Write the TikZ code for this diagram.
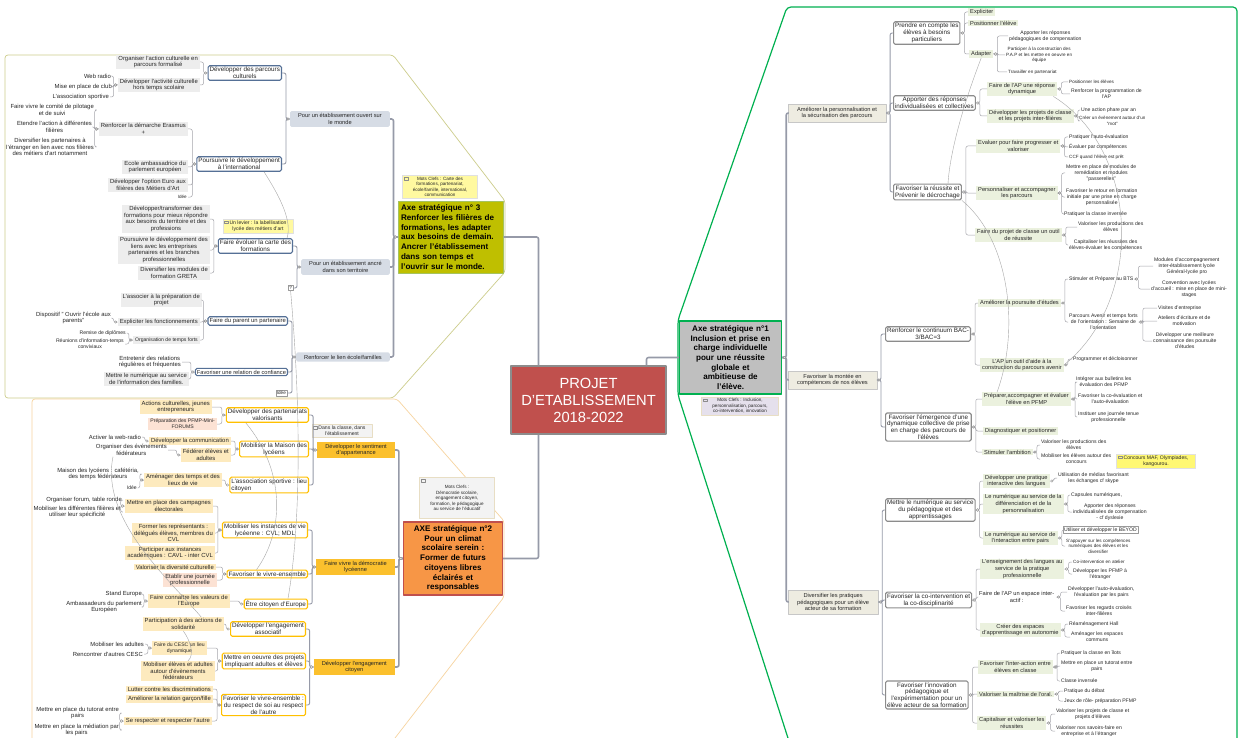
\documentclass[tikz,border=0pt]{standalone}
\usepackage{fontspec}
\setmainfont{Liberation Sans}
\usepackage{tikz}

\definecolor{frameolive}{RGB}{205,205,140}
\definecolor{frameorange}{RGB}{247,212,160}
\definecolor{framegreen}{RGB}{0,176,80}
\definecolor{projred}{RGB}{192,80,77}
\definecolor{axeolive}{RGB}{191,191,0}
\definecolor{axeolivebd}{RGB}{165,195,95}
\definecolor{axeorange}{RGB}{247,150,70}
\definecolor{axegray}{RGB}{191,191,191}
\definecolor{topicblue}{RGB}{214,220,229}
\definecolor{boxblue}{RGB}{85,112,150}
\definecolor{leafgray}{RGB}{237,237,237}
\definecolor{topicorange}{RGB}{251,192,45}
\definecolor{boxorange}{RGB}{255,192,0}
\definecolor{leaftan}{RGB}{253,234,190}
\definecolor{leafpink}{RGB}{252,226,212}
\definecolor{topicbeige}{RGB}{238,236,225}
\definecolor{boxgray}{RGB}{140,140,140}
\definecolor{leafgreen}{RGB}{235,241,222}
\definecolor{noteyellow}{RGB}{255,249,160}
\definecolor{notegray}{RGB}{243,243,243}
\definecolor{notebd}{RGB}{232,222,196}
\definecolor{notelilac}{RGB}{229,224,236}
\definecolor{linkgray}{RGB}{165,165,172}
\definecolor{trunkgray}{RGB}{150,154,168}

\newcommand\fLeaf{\fontsize{5.9}{6.6}\selectfont}
\newcommand\fTiny{\fontsize{5.1}{6.1}\selectfont}
\newcommand\fMini{\fontsize{4.6}{5.5}\selectfont}
\newcommand\fTopic{\fontsize{5.7}{6.6}\selectfont}
\newcommand\fBranch{\fontsize{6.3}{6.8}\selectfont}
\newcommand\fAxe{\fontsize{8.1}{9.7}\selectfont\bfseries}
\newcommand\fTitle{\fontsize{14.7}{17}\selectfont}

\def\linkL[#1](#2)(#3){\draw[#1] (#2.west) -- ++(-4,0) |- (#3.east); \filldraw[knob] (#2.west) ++(-2,0) circle (1.2pt);}
\def\linkR[#1](#2)(#3){\draw[#1] (#2.east) -- ++(4,0) |- (#3.west); \filldraw[knob] (#2.east) ++(2,0) circle (1.2pt);}

\tikzset{
	every node/.style={text=black!85, inner sep=1pt, align=center, font=\fLeaf},
	pl/.style={anchor=east},
	pr/.style={anchor=west},
	smallT/.style={font=\fTiny},
	smallM/.style={font=\fMini},
	titlebox/.style={fill=projred, draw=black!45, line width=1.5pt, text=white, font=\fTitle, minimum width=155, minimum height=68, inner sep=2pt},
	axe3/.style={fill=axeolive, draw=axeolivebd, line width=1pt, text=black, font=\fAxe, text width=99pt, align=left, minimum height=72, inner sep=3pt},
	axe2/.style={fill=axeorange, draw=projred, line width=1.2pt, text=black, font=\fAxe, text width=93pt, minimum height=73, inner sep=3pt},
	axe1/.style={fill=axegray, draw=framegreen, line width=1.5pt, text=black, font=\fAxe, text width=96pt, minimum height=73, inner sep=3pt},
	topicA/.style={anchor=east, fill=topicblue, rounded corners=1.5pt, inner xsep=8pt, inner ysep=2.5pt, font=\fTopic},
	boxA/.style={anchor=east, draw=boxblue, line width=1.1pt, fill=white, rounded corners=1.5pt, inner sep=1.5pt, font=\fBranch},
	leafA/.style={anchor=east, fill=leafgray, inner xsep=2pt, inner ysep=1.2pt},
	topicB/.style={anchor=east, fill=topicorange, inner xsep=8pt, inner ysep=2.5pt, font=\fTopic},
	boxB/.style={anchor=east, draw=boxorange, line width=1.1pt, fill=white, rounded corners=1.5pt, inner sep=1.5pt, font=\fBranch},
	leafB/.style={anchor=east, fill=leaftan, inner xsep=2pt, inner ysep=1.2pt},
	topicC/.style={anchor=west, fill=topicbeige, draw=black!22, line width=.3pt, inner xsep=9pt, inner ysep=3pt, font=\fTopic},
	boxC/.style={anchor=west, draw=boxgray, line width=1.1pt, fill=white, rounded corners=1.5pt, inner sep=1.5pt, font=\fBranch},
	leafC/.style={anchor=west, fill=leafgreen, inner xsep=2pt, inner ysep=1.2pt, font=\fTopic},
	tag/.style={draw=black!40, line width=.3pt, inner sep=1pt, font=\fMini},
	note/.style={font=\fMini, inner xsep=6.5pt, inner ysep=1.5pt, line width=.3pt, path picture={\draw[black!45, line width=.3pt] ([shift={(1.5pt,-2pt)}]path picture bounding box.north west) rectangle ++(4pt,-2.5pt);}},
	noteY/.style={note, fill=noteyellow, draw=black!12},
	noteG/.style={note, fill=notegray, draw=notebd},
	noteL/.style={note, fill=notelilac, draw=notebd},
	trunk/.style={draw=trunkgray, line width=1.6pt, rounded corners=2pt},
	mid/.style={draw=trunkgray, line width=.9pt, rounded corners=2pt},
	link/.style={draw=linkgray, line width=.5pt, rounded corners=2pt},
	rel/.style={draw=black!35, line width=.4pt},
	knob/.style={draw=black!45, fill=white, line width=.4pt},
}

\begin{document}
\begin{tikzpicture}[x=1pt, y=-1pt, line join=round]
	\useasboundingbox (0,0) rectangle (1241,738);
	\fill[white] (0,0) rectangle (1241,738);

	\draw[frameolive, line width=.7pt, rounded corners=3pt] (5,398) -- (5,55) -- (393,55) -- (505,201) -- (505,272) -- (393,398) -- cycle;
	\draw[frameorange, line width=.7pt, rounded corners=3pt] (32,760) -- (32,399) -- (397,399) -- (504,521) -- (504,597) -- (378,760);
	\draw[framegreen, line width=1.2pt, rounded corners=4pt] (795,760) -- (678,395) -- (678,320) -- (787,7) -- (1237,7) -- (1237,760);

	\node[titlebox] (title) at (588.5,400) {PROJET\\D'ETABLISSEMENT\\2018-2022};

	\node[axe3] (ax3) at (450.5,237) {Axe stratégique n° 3\\Renforcer les filières de\\formations, les adapter\\aux besoins de demain.\\Ancrer l'établissement\\dans son temps et\\l'ouvrir sur le monde.};
	\node[noteY, minimum width=75] (clefs3) at (440,187) {Mots Clefs : Carte des\\formations, partenariat,\\école/famille, international,\\communication};

	\node[topicA] (ouvert) at (390,119) {Pour un établissement ouvert sur\\le monde};
	\node[topicA] (ancre) at (390,267) {Pour un établissement ancré\\dans son territoire};
	\node[topicA] (famille) at (390,357) {Renforcer le lien école/familles};

	\node[boxA] (parcoursCult) at (282,73) {Développer des parcours\\culturels};
	\node[boxA] (international) at (282,164) {Poursuivre le développement\\à l'international};
	\node[boxA] (carteForm) at (293,246) {Faire évoluer la carte des\\formations};
	\node[tag, anchor=east] (question) at (293,288) {?};
	\node[boxA, font=\fLeaf] (parentPart) at (288,321) {Faire du parent un partenaire};
	\node[boxA, font=\fTopic] (confiance) at (288,372) {Favoriser une relation de confiance};
	\node[tag, anchor=east] (ideeFam) at (287,393) {Idée};

	\node[leafA] (actionCult) at (200,62) {Organiser l'action culturelle en\\parcours formalisé};
	\node[leafA] (horsTemps) at (200,85) {Développer l'activité culturelle\\hors temps scolaire};
	\node[pl] (webRadio) at (112,76) {Web radio};
	\node[pl] (club) at (113,87) {Mise en place de club};
	\node[pl] (asso) at (110,97) {L'association sportive};
	\node[leafA] (erasmus) at (188,129) {Renforcer la démarche Erasmus\\+};
	\node[pl] (comite) at (95,110) {Faire vivre le comité de pilotage\\et de suivi};
	\node[pl] (etendre) at (93,127) {Etendre l'action à différentes\\filières};
	\node[pl] (diversPart) at (95,147) {Diversifier les partenaires à\\l'étranger en lien avec nos filières\\des métiers d'art notamment};
	\node[leafA] (ambassadrice) at (188,167) {Ecole ambassadrice du\\parlement européen};
	\node[leafA] (optionEuro) at (188,185) {Développer l'option Euro aux\\filières des Métiers d'Art};
	\node[pl, smallM] (ideeInt) at (188,197) {Idée};
	\node[leafA] (transformer) at (210,219) {Développer/transformer des\\formations pour mieux répondre\\aux besoins du territoire et des\\professions};
	\node[leafA] (liensEntr) at (210,250) {Poursuivre le développement des\\liens avec les entreprises\\partenaires et les branches\\professionnelles};
	\node[leafA] (greta) at (210,273) {Diversifier les modules de\\formation GRETA};
	\node[noteY, smallT] (levier) at (258,226) {Un levier : la labellisation\\lycée des métiers d'art};
	\node[leafA] (associer) at (202,300) {L'associer à la préparation de\\projet};
	\node[leafA] (expliciter) at (200,322) {Expliciter les fonctionnements};
	\node[pl] (ouvrirEcole) at (112,318) {Dispositif " Ouvrir l'école aux\\parents"};
	\node[leafA, smallT] (tempsForts) at (200,340) {Organisation de temps forts};
	\node[pl, smallT] (diplomes) at (127,333) {Remise de diplômes};
	\node[pl, smallT] (reunions) at (125,344) {Réunions d'information-temps\\conviviaux};
	\node[pl] (relations) at (182,362) {Entretenir des relations\\régulières et fréquentes};
	\node[leafA] (numFam) at (189,379) {Mettre le numérique au service\\de l'information des familles.};

	\node[axe2] (ax2) at (453,558.5) {AXE stratégique n°2\\Pour un climat\\scolaire serein :\\Former de futurs\\citoyens libres\\éclairés et\\responsables};
	\node[noteG, minimum width=75, minimum height=41] (clefs2) at (457,498) {Mots Clefs :\\Démocratie scolaire,\\engagement citoyen,\\formation, le pédagogique\\au service de l'éducatif};
	\node[topicB] (appartenance) at (395,450) {Développer le sentiment\\d'appartenance};
	\node[topicB] (democratie) at (395,567) {Faire vivre la démocratie\\lycéenne};
	\node[topicB] (engagement) at (395,667) {Développer l'engagement\\citoyen};
	\node[noteG, smallT, minimum width=60] (classe) at (342,431) {Dans la classe, dans\\l'établissement};

	\node[boxB] (partenariats) at (309,415) {Développer des partenariats\\valorisants};
	\node[boxB] (maisonLyc) at (309,449) {Mobiliser la Maison des\\lycéens};
	\node[boxB, align=left] (assoSport) at (309,485) {L'association sportive : lieu\\citoyen};
	\node[boxB] (instances) at (308,530) {Mobiliser les instances de vie\\lycéenne : CVL; MDL};
	\node[boxB] (vivreEns) at (308,574) {Favoriser le vivre-ensemble};
	\node[boxB] (europe) at (308,604) {Être citoyen d'Europe};
	\node[boxB] (associatif) at (306,629) {Développer l'engagement\\associatif};
	\node[boxB] (projetsAd) at (306,661) {Mettre en oeuvre des projets\\impliquant adultes et élèves};
	\node[boxB] (respect) at (306,705) {Favoriser le vivre-ensemble :\\du respect de soi au respect\\de l'autre};

	\node[leafB] (actionsJeunes) at (212,407) {Actions culturelles, jeunes\\entrepreneurs};
	\node[leafB, fill=leafpink, smallT] (miniForums) at (217,424) {Préparation des PFMP-Mini-\\FORUMS};
	\node[leafB] (communication) at (231,441) {Développer la communication};
	\node[leafB] (federer) at (231,455) {Fédérer élèves et\\adultes};
	\node[pl] (webRadio2) at (142,437) {Activer la web-radio};
	\node[pl] (evenements) at (168,450) {Organiser des événements\\fédérateurs};
	\node[leafB] (amenager) at (222,480) {Aménager des temps et des\\lieux de vie};
	\node[pl] (cafeteria) at (140,474) {Maison des lycéens : cafétéria,\\des temps fédérateurs};
	\node[pl, smallT] (ideeVie) at (138,488) {Idée};
	\node[leafB] (campagnes) at (213,506) {Mettre en place des campagnes\\électorales};
	\node[leafB] (representants) at (215,533) {Former les représentants :\\délégués élèves, membres du\\CVL};
	\node[leafB] (academie) at (215,553) {Participer aux instances\\académiques : CAVL - inter CVL};
	\node[pl] (forum) at (123,500) {Organiser forum, table ronde};
	\node[pl] (filieres) at (122,512) {Mobiliser les différentes filières et\\utiliser leur spécificité};
	\node[leafB] (diversite) at (216,567) {Valoriser la diversité culturelle};
	\node[leafB, fill=leafpink] (journee) at (217,580) {Etablir une journée\\professionnelle};
	\node[leafB] (valeursEur) at (230,601) {Faire connaître les valeurs de\\l'Europe};
	\node[pl] (stand) at (143,594) {Stand Europe};
	\node[pl] (ambassadeurs) at (143,607) {Ambassadeurs du parlement\\Européen};
	\node[leafB] (solidarite) at (224,624) {Participation à des actions de\\solidarité};
	\node[leafB, smallT] (cesc) at (207,648) {Faire du CESC un lieu\\dynamique};
	\node[leafB] (evenementsAd) at (215,671) {Mobiliser élèves et adultes\\autour d'évènements\\fédérateurs};
	\node[pl] (adultes) at (145,644) {Mobiliser les adultes};
	\node[pl] (autresCesc) at (144,654) {Rencontrer d'autres CESC};
	\node[leafB] (discrim) at (213,689) {Lutter contre les discriminations};
	\node[leafB] (garconFille) at (213,699) {Améliorer la relation garçon/fille};
	\node[leafB] (seRespecter) at (212,721) {Se respecter et respecter l'autre};
	\node[pl] (tutorat) at (120,713) {Mettre en place du tutorat entre\\pairs};
	\node[pl] (mediation) at (120,730) {Mettre en place la médiation par\\les pairs};

	\node[axe1] (ax1) at (730.5,357.5) {Axe stratégique n°1\\Inclusion et prise en\\charge individuelle\\pour une réussite\\globale et\\ambitieuse de\\l'élève.};
	\node[noteL, minimum width=77] (clefs1) at (740,406) {Mots Clefs : Inclusion,\\personnalisation, parcours,\\co-intervention, innovation};

	\node[topicC] (personnalisation) at (788,113) {Améliorer la personnalisation et\\la sécurisation des parcours};
	\node[topicC] (competences) at (788,380) {Favoriser la montée en\\compétences de nos élèves};
	\node[topicC] (pratiques) at (788,602) {Diversifier les pratiques\\pédagogiques pour un élève\\acteur de sa formation};

	\node[boxC] (besoins) at (893,33) {Prendre en compte les\\élèves à besoins\\particuliers};
	\node[boxC] (reponses) at (893,103) {Apporter des réponses\\individualisées et collectives};
	\node[boxC] (reussite) at (893,192) {Favoriser la réussite et\\Prévenir le décrochage};
	\node[boxC] (continuum) at (885,334) {Renforcer le continuum BAC-\\3/BAC=3};
	\node[boxC] (emergence) at (885,427) {Favoriser l'émergence d'une\\dynamique collective de prise\\en charge des parcours de\\l'élèves};
	\node[boxC] (numerique) at (885,510) {Mettre le numérique au service\\du pédagogique et des\\apprentissages};
	\node[boxC] (cointervention) at (885,600) {Favoriser la co-intervention et\\la co-disciplinarité};
	\node[boxC] (innovation) at (885,695) {Favoriser l'innovation\\pédagogique et\\l'expérimentation  pour un\\élève acteur de sa formation};

	\node[leafC] (expliciterEl) at (968,12) {Expliciter};
	\node[leafC] (positionner) at (968,23) {Positionner l'élève};
	\node[leafC] (adapter) at (969,54) {Adapter};
	\node[pr, smallT] (compensation) at (1008,36) {Apporter les réponses\\pédagogiques de compensation};
	\node[pr, smallM] (pap) at (1005,55) {Participer à la construction des\\P.A.P et les mettre en oeuvre en\\équipe};
	\node[pr, smallM] (partenariat) at (1007,72) {Travailler en partenariat};
	\node[leafC] (apDyn) at (987,89) {Faire de l'AP une réponse\\dynamique};
	\node[leafC] (projetsClasse) at (987,116) {Développer les projets de classe\\et les projets inter-filières};
	\node[pr, smallM] (positionnerEl) at (1068,82) {Positionner les élèves};
	\node[pr, smallT] (programmation) at (1070,94) {Renforcer la programmation de\\l'AP};
	\node[pr, smallT] (phare) at (1080,110) {Une action phare par an};
	\node[pr, smallM] (mot) at (1078,121) {Créer un évènement autour d'un\\"mot"};
	\node[leafC] (evaluer) at (976,146) {Evaluer pour faire progresser et\\valoriser};
	\node[leafC] (accompagner) at (976,193) {Personnaliser et accompagner\\les parcours};
	\node[leafC] (projetOutil) at (975,235) {Faire du projet de classe un outil\\de réussite};
	\node[pr, smallT] (autoEval) at (1068,137) {Pratiquer l'auto-évaluation};
	\node[pr, smallT] (parComp) at (1068,147) {Évaluer par compétences};
	\node[pr, smallM] (ccf) at (1068,157) {CCF quand l'élève est prêt};
	\node[pr, smallT] (modules) at (1065,173) {Mettre en place de modules de\\remédiation et modules\\"passerelles"};
	\node[pr, smallT] (retour) at (1065,197) {Favoriser le retour en formation\\initiale par une prise en charge\\personnalisée};
	\node[pr, smallT] (inversee) at (1063,214) {Pratiquer la classe inversée};
	\node[pr, smallT] (productions) at (1077,227) {Valoriser les productions des\\élèves};
	\node[pr, smallT] (capitaliser) at (1068,245) {Capitaliser les réussites des\\élèves-évaluer les compétences};

	\node[leafC] (poursuite) at (978,303) {Améliorer la poursuite d'études};
	\node[leafC] (apAvenir) at (980,365) {L'AP un outil d'aide à la\\construction du parcours avenir};
	\node[pr, smallT] (bts) at (1068,279) {Stimuler et Préparer au BTS};
	\node[pr, smallT] (avenir) at (1068,322) {Parcours Avenir  et temps forts\\de l'orientation : Semaine de\\l'orientation};
	\node[pr, smallT] (modulesAcc) at (1153,266) {Modules d'accompagnement\\inter-établissement lycée\\Général-lycée pro};
	\node[pr, smallT] (convention) at (1150,289) {Convention avec lycées\\d'accueil : mise en place de mini-\\stages};
	\node[pr, smallT] (visites) at (1157,308) {Visites d'entreprise};
	\node[pr, smallT] (ateliers) at (1157,321) {Ateliers d'écriture et de\\motivation};
	\node[pr, smallT] (connaissance) at (1152,341) {Développer une meilleure\\connaissance des poursuite\\d'études};
	\node[pr, smallT] (decloisonner) at (1072,359) {Programmer et décloisonner};
	\node[leafC] (pfmp) at (982,399) {Préparer,accompagner et évaluer\\l'élève en PFMP};
	\node[leafC] (diagnostiquer) at (983,431) {Diagnostiquer et positionner};
	\node[leafC] (ambition) at (982,452) {Stimuler l'ambition};
	\node[pr, smallT] (bulletins) at (1075,382) {Intégrer aux bulletins les\\évaluation des PFMP};
	\node[pr, smallT] (coEval) at (1077,399) {Favoriser la co-évaluation et\\l'auto-évaluation};
	\node[pr, smallT] (journeeTenue) at (1077,417) {Instituer une journée tenue\\professionnelle};
	\node[pr, smallT] (productionsEl) at (1040,445) {Valoriser les productions des\\élèves};
	\node[pr, smallT] (concours) at (1040,459) {Mobiliser les élèves autour des\\concours};
	\node[noteY, smallT, fill=yellow!55, minimum width=79] (maf) at (1156,461) {Concours MAF, Olympiades,\\kangourou.};

	\node[leafC] (langues) at (983,481) {Développer une pratique\\interactive des langues};
	\node[leafC] (differenciation) at (983,504) {Le numérique au service de la\\différenciation et de la\\personnalisation};
	\node[leafC] (interaction) at (983,538) {Le numérique au service de\\l'interaction entre pairs};
	\node[pr, smallT] (skype) at (1057,478) {Utilisation de médias favorisant\\les échanges cf skype};
	\node[pr, smallT] (capsules) at (1070,495) {Capsules numériques,};
	\node[pr, smallT] (compDys) at (1072,512) {Apporter des réponses\\individualisées de compensation\\- cf dyslexie};
	\node[pr, smallT, draw=black!40, line width=.3pt] (beyod) at (1063,530) {Utiliser et développer le BEYOD};
	\node[pr, smallM] (appuyer) at (1065,546) {S'appuyer sur les compétences\\numériques des élèves et les\\diversifier};
	\node[leafC] (enseignement) at (980,569) {L'enseignement des langues au\\service de la pratique\\professionnelle};
	\node[leafC, fill=none] (espaceAp) at (977,597) {Faire de l'AP un espace inter-\\actif :};
	\node[leafC] (autonomie) at (980,630) {Créer des espaces\\d'apprentissage en autonomie};
	\node[pr, smallM] (atelier) at (1072,562) {Co-intervention en atelier};
	\node[pr, smallT] (pfmpEtranger) at (1072,574) {Développer les PFMP à\\l'étranger};
	\node[pr, smallT] (evalPairs) at (1067,592) {Développer l'auto-évaluation,\\l'évaluation par les pairs};
	\node[pr, smallT] (regards) at (1065,611) {Favoriser les regards croisés\\inter-filières};
	\node[pr, smallT] (hall) at (1068,624) {Réaménagement Hall};
	\node[pr, smallT] (communs) at (1070,637) {Aménager les espaces\\communs};
	\node[leafC] (interAction) at (978,667) {Favoriser l'inter-action entre\\élèves en classe};
	\node[leafC] (oral) at (977,694) {Valoriser la maîtrise de l'oral.};
	\node[leafC] (capitaliserR) at (977,723) {Capitaliser et valoriser les\\réussites};
	\node[pr, smallT] (ilots) at (1060,653) {Pratiquer la classe en îlots};
	\node[pr, smallT] (tutoratPairs) at (1060,666) {Mettre en place un tutorat entre\\pairs};
	\node[pr, smallT] (classeInv) at (1060,681) {Classe inversée};
	\node[pr, smallT] (debat) at (1063,691) {Pratique du débat};
	\node[pr, smallT] (jeux) at (1063,701) {Jeux de rôle- préparation PFMP};
	\node[pr, smallT] (projetsEl) at (1055,714) {Valoriser les projets de classe et\\projets d'élèves};
	\node[pr, smallT] (savoirs) at (1055,731) {Valoriser nos savoirs-faire en\\entreprise et à l'étranger};

	\draw[trunk] (ax3.east) -| ([xshift=-50]title.north);
	\draw[trunk] (ax2.east) -| ([xshift=-50]title.south);
	\draw[trunk] (ax1.west) -| ([xshift=58]title.north);

	\linkL[trunk](ax3)(ouvert)
	\linkL[trunk](ax3)(ancre)
	\linkL[trunk](ax3)(famille)
	\linkL[mid](ouvert)(parcoursCult)
	\linkL[mid](ouvert)(international)
	\linkL[mid](ancre)(carteForm)
	\linkL[mid](ancre)(question)
	\linkL[mid](famille)(parentPart)
	\linkL[mid](famille)(confiance)
	\linkL[mid](famille)(ideeFam)
	\linkL[link](parcoursCult)(actionCult)
	\linkL[link](parcoursCult)(horsTemps)
	\linkL[link](horsTemps)(webRadio)
	\linkL[link](horsTemps)(club)
	\linkL[link](horsTemps)(asso)
	\linkL[link](international)(erasmus)
	\linkL[link](international)(ambassadrice)
	\linkL[link](international)(optionEuro)
	\linkL[link](international)(ideeInt)
	\linkL[link](erasmus)(comite)
	\linkL[link](erasmus)(etendre)
	\linkL[link](erasmus)(diversPart)
	\linkL[link](carteForm)(transformer)
	\linkL[link](carteForm)(liensEntr)
	\linkL[link](carteForm)(greta)
	\linkL[link](parentPart)(associer)
	\linkL[link](parentPart)(expliciter)
	\linkL[link](parentPart)(tempsForts)
	\linkL[link](expliciter)(ouvrirEcole)
	\linkL[link](tempsForts)(diplomes)
	\linkL[link](tempsForts)(reunions)
	\linkL[link](confiance)(relations)
	\linkL[link](confiance)(numFam)

	\linkL[trunk](ax2)(appartenance)
	\linkL[trunk](ax2)(democratie)
	\linkL[trunk](ax2)(engagement)
	\linkL[mid](appartenance)(partenariats)
	\linkL[mid](appartenance)(maisonLyc)
	\linkL[mid](appartenance)(assoSport)
	\linkL[mid](democratie)(instances)
	\linkL[mid](democratie)(vivreEns)
	\linkL[mid](democratie)(europe)
	\linkL[mid](engagement)(associatif)
	\linkL[mid](engagement)(projetsAd)
	\linkL[mid](engagement)(respect)
	\linkL[link](partenariats)(actionsJeunes)
	\linkL[link](partenariats)(miniForums)
	\linkL[link](maisonLyc)(communication)
	\linkL[link](maisonLyc)(federer)
	\linkL[link](communication)(webRadio2)
	\linkL[link](federer)(evenements)
	\linkL[link](assoSport)(amenager)
	\linkL[link](amenager)(cafeteria)
	\linkL[link](amenager)(ideeVie)
	\linkL[link](instances)(campagnes)
	\linkL[link](instances)(representants)
	\linkL[link](instances)(academie)
	\linkL[link](campagnes)(forum)
	\linkL[link](campagnes)(filieres)
	\linkL[link](vivreEns)(diversite)
	\linkL[link](vivreEns)(journee)
	\linkL[link](europe)(valeursEur)
	\linkL[link](valeursEur)(stand)
	\linkL[link](valeursEur)(ambassadeurs)
	\linkL[link](associatif)(solidarite)
	\linkL[link](projetsAd)(cesc)
	\linkL[link](projetsAd)(evenementsAd)
	\linkL[link](cesc)(adultes)
	\linkL[link](cesc)(autresCesc)
	\linkL[link](respect)(discrim)
	\linkL[link](respect)(garconFille)
	\linkL[link](respect)(seRespecter)
	\linkL[link](seRespecter)(tutorat)
	\linkL[link](seRespecter)(mediation)

	\linkR[trunk](ax1)(personnalisation)
	\linkR[trunk](ax1)(competences)
	\linkR[trunk](ax1)(pratiques)
	\linkR[mid](personnalisation)(besoins)
	\linkR[mid](personnalisation)(reponses)
	\linkR[mid](personnalisation)(reussite)
	\linkR[mid](competences)(continuum)
	\linkR[mid](competences)(emergence)
	\linkR[mid](pratiques)(numerique)
	\linkR[mid](pratiques)(cointervention)
	\linkR[mid](pratiques)(innovation)
	\linkR[link](besoins)(expliciterEl)
	\linkR[link](besoins)(positionner)
	\linkR[link](besoins)(adapter)
	\linkR[link](adapter)(compensation)
	\linkR[link](adapter)(pap)
	\linkR[link](adapter)(partenariat)
	\linkR[link](reponses)(apDyn)
	\linkR[link](reponses)(projetsClasse)
	\linkR[link](apDyn)(positionnerEl)
	\linkR[link](apDyn)(programmation)
	\linkR[link](projetsClasse)(phare)
	\linkR[link](projetsClasse)(mot)
	\linkR[link](reussite)(evaluer)
	\linkR[link](reussite)(accompagner)
	\linkR[link](reussite)(projetOutil)
	\linkR[link](evaluer)(autoEval)
	\linkR[link](evaluer)(parComp)
	\linkR[link](evaluer)(ccf)
	\linkR[link](accompagner)(modules)
	\linkR[link](accompagner)(retour)
	\linkR[link](accompagner)(inversee)
	\linkR[link](projetOutil)(productions)
	\linkR[link](projetOutil)(capitaliser)
	\linkR[link](continuum)(poursuite)
	\linkR[link](continuum)(apAvenir)
	\linkR[link](poursuite)(bts)
	\linkR[link](poursuite)(avenir)
	\linkR[link](bts)(modulesAcc)
	\linkR[link](bts)(convention)
	\linkR[link](avenir)(visites)
	\linkR[link](avenir)(ateliers)
	\linkR[link](avenir)(connaissance)
	\linkR[link](apAvenir)(decloisonner)
	\linkR[link](emergence)(pfmp)
	\linkR[link](emergence)(diagnostiquer)
	\linkR[link](emergence)(ambition)
	\linkR[link](pfmp)(bulletins)
	\linkR[link](pfmp)(coEval)
	\linkR[link](pfmp)(journeeTenue)
	\linkR[link](ambition)(productionsEl)
	\linkR[link](ambition)(concours)
	\linkR[link](numerique)(langues)
	\linkR[link](numerique)(differenciation)
	\linkR[link](numerique)(interaction)
	\linkR[link](langues)(skype)
	\linkR[link](differenciation)(capsules)
	\linkR[link](differenciation)(compDys)
	\linkR[link](interaction)(beyod)
	\linkR[link](interaction)(appuyer)
	\linkR[link](cointervention)(enseignement)
	\linkR[link](cointervention)(espaceAp)
	\linkR[link](cointervention)(autonomie)
	\linkR[link](enseignement)(atelier)
	\linkR[link](enseignement)(pfmpEtranger)
	\linkR[link](espaceAp)(evalPairs)
	\linkR[link](espaceAp)(regards)
	\linkR[link](autonomie)(hall)
	\linkR[link](autonomie)(communs)
	\linkR[link](innovation)(interAction)
	\linkR[link](innovation)(oral)
	\linkR[link](innovation)(capitaliserR)
	\linkR[link](interAction)(ilots)
	\linkR[link](interAction)(tutoratPairs)
	\linkR[link](interAction)(classeInv)
	\linkR[link](oral)(debat)
	\linkR[link](oral)(jeux)
	\linkR[link](capitaliserR)(projetsEl)
	\linkR[link](capitaliserR)(savoirs)

	\draw[rel] ([xshift=-18]international.south east) .. controls (282,200) and (292,222) .. ([xshift=-6]carteForm.north east);
	\draw[rel] (question.south) .. controls (302,420) and (300,530) .. ([xshift=-20]europe.north east);
	\draw[rel] ([xshift=20]partenariats.south west) .. controls (285,470) and (285,530) .. ([xshift=30]vivreEns.north west);
	\draw[rel] ([xshift=-55]evenements.south east) .. controls (100,520) and (170,580) .. ([xshift=18]solidarite.north);
	\draw[rel] (solidarite.south) .. controls (190,640) and (195,655) .. ([xshift=10]evenementsAd.north);
	\draw[rel] (adapter.south) .. controls (965,100) and (950,150) .. ([xshift=55]reussite.north west);
	\draw[rel] ([xshift=-4]apDyn.south east) .. controls (1140,150) and (1145,300) .. (apAvenir.east);
	\draw[rel] (reussite.south east) .. controls (1010,240) and (1020,330) .. ([xshift=15]pfmp.north west);
\end{tikzpicture}
\end{document}
